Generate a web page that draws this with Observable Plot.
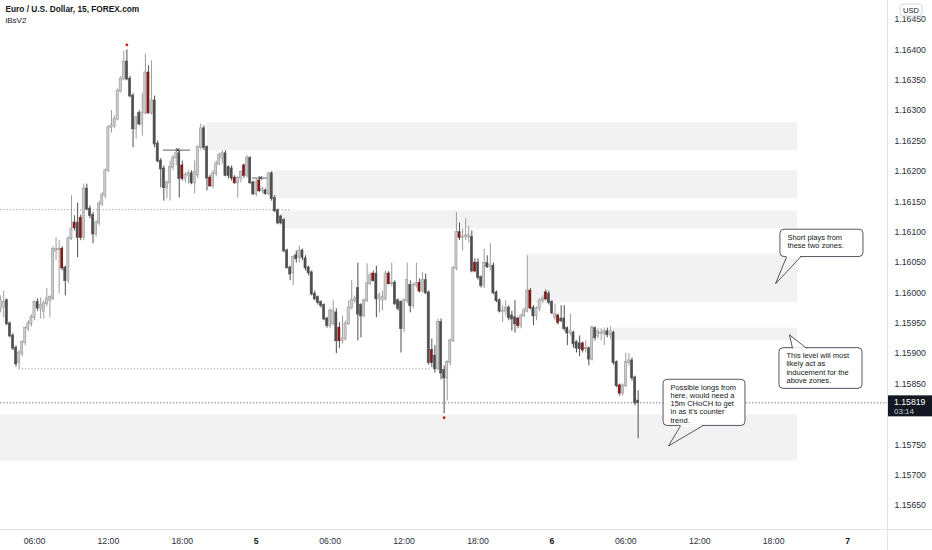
<!DOCTYPE html>
<html><head><meta charset="utf-8">
<script src="https://cdn.jsdelivr.net/npm/d3@7"></script>
<script src="https://cdn.jsdelivr.net/npm/@observablehq/plot@0.6"></script>
<style>
body{margin:0;background:#fff;}
#chart{width:932px;height:550px;}
</style></head><body><div id="chart"></div>
<script>
// ---- Data (EUR/USD, 15m candles from 4 Oct 03:15) ----
const open = [1.15975,1.15977,1.15987,1.15949,1.15929,1.15909,1.15885,1.15900,1.15918,1.15941,1.15949,1.15959,1.15984,1.15974,1.15970,1.15982,1.15988,1.15990,1.16069,1.16071,1.16072,1.16041,1.16020,1.16089,1.16107,1.16115,1.16123,1.16091,1.16171,1.16138,1.16127,1.16097,1.16115,1.16146,1.16160,1.16201,1.16272,1.16275,1.16286,1.16332,1.16352,1.16380,1.16352,1.16324,1.16270,1.16295,1.16278,1.16296,1.16362,1.16296,1.16316,1.16245,1.16217,1.16204,1.16173,1.16181,1.16206,1.16222,1.16229,1.16209,1.16188,1.16193,1.16196,1.16181,1.16194,1.16239,1.16270,1.16239,1.16189,1.16176,1.16196,1.16212,1.16221,1.16229,1.16206,1.16204,1.16189,1.16181,1.16188,1.16209,1.16193,1.16221,1.16181,1.16163,1.16184,1.16168,1.16168,1.16163,1.16196,1.16155,1.16135,1.16125,1.16119,1.16069,1.16041,1.16033,1.16061,1.16058,1.16069,1.16056,1.16041,1.16033,1.15998,1.15992,1.15984,1.15979,1.15957,1.15946,1.15949,1.15967,1.15942,1.15921,1.15924,1.15949,1.15975,1.15987,1.16007,1.15979,1.15962,1.15987,1.16015,1.16031,1.16031,1.15990,1.15988,1.15990,1.16031,1.16015,1.16016,1.15987,1.15984,1.15941,1.15987,1.16012,1.15979,1.16012,1.16016,1.16003,1.16020,1.16000,1.15905,1.15896,1.15875,1.15951,1.15872,1.15860,1.15885,1.15921,1.16040,1.16099,1.16091,1.16092,1.16092,1.16091,1.16049,1.16049,1.16025,1.16012,1.16048,1.16043,1.16044,1.16000,1.15987,1.15969,1.15970,1.15975,1.15962,1.15959,1.15957,1.15946,1.15962,1.15970,1.16003,1.15975,1.15962,1.15974,1.15987,1.16000,1.15998,1.15984,1.15960,1.15962,1.15957,1.15957,1.15941,1.15934,1.15934,1.15918,1.15916,1.15916,1.15908,1.15908,1.15891,1.15941,1.15929,1.15933,1.15933,1.15936,1.15931,1.15934,1.15885,1.15847,1.15835,1.15847,1.15885,1.15888,1.15860,1.15822];
const high = [1.15995,1.16003,1.15990,1.15952,1.15933,1.15913,1.15905,1.15921,1.15944,1.15954,1.15964,1.15987,1.15990,1.15992,1.15987,1.16007,1.15995,1.16076,1.16091,1.16086,1.16076,1.16044,1.16092,1.16160,1.16127,1.16148,1.16128,1.16179,1.16179,1.16143,1.16132,1.16119,1.16151,1.16165,1.16204,1.16275,1.16300,1.16291,1.16336,1.16356,1.16398,1.16400,1.16356,1.16328,1.16291,1.16300,1.16328,1.16393,1.16374,1.16382,1.16324,1.16250,1.16221,1.16209,1.16184,1.16217,1.16226,1.16230,1.16234,1.16217,1.16198,1.16201,1.16201,1.16217,1.16242,1.16278,1.16275,1.16242,1.16194,1.16201,1.16217,1.16230,1.16234,1.16234,1.16209,1.16209,1.16193,1.16191,1.16201,1.16212,1.16226,1.16224,1.16184,1.16188,1.16189,1.16174,1.16171,1.16198,1.16199,1.16160,1.16138,1.16128,1.16122,1.16072,1.16044,1.16061,1.16069,1.16077,1.16072,1.16061,1.16044,1.16036,1.16003,1.15995,1.15987,1.15982,1.15960,1.15974,1.15987,1.15974,1.15951,1.15962,1.15954,1.15987,1.16020,1.15995,1.16049,1.15982,1.15990,1.16048,1.16033,1.16036,1.16044,1.16000,1.16003,1.16036,1.16035,1.16049,1.16020,1.15990,1.15987,1.15990,1.16049,1.16020,1.16016,1.16049,1.16023,1.16033,1.16031,1.16003,1.15924,1.15913,1.15957,1.15957,1.15880,1.15888,1.15924,1.16043,1.16132,1.16115,1.16105,1.16122,1.16110,1.16102,1.16056,1.16056,1.16028,1.16072,1.16061,1.16081,1.16049,1.16003,1.15990,1.15979,1.15987,1.15979,1.15970,1.15987,1.15960,1.15965,1.15975,1.16061,1.16007,1.15979,1.15977,1.15990,1.15995,1.16005,1.16003,1.15987,1.15982,1.15965,1.15979,1.15979,1.15944,1.15965,1.15937,1.15921,1.15929,1.15919,1.15921,1.15911,1.15946,1.15944,1.15941,1.15941,1.15942,1.15942,1.15944,1.15937,1.15888,1.15850,1.15850,1.15901,1.15900,1.15893,1.15863,1.15839];
const low = [1.15967,1.15959,1.15946,1.15926,1.15905,1.15878,1.15875,1.15895,1.15913,1.15936,1.15944,1.15954,1.15970,1.15957,1.15957,1.15977,1.15959,1.15987,1.16053,1.15998,1.16036,1.15995,1.16015,1.16086,1.16102,1.16058,1.16086,1.16086,1.16135,1.16122,1.16081,1.16092,1.16110,1.16142,1.16155,1.16198,1.16263,1.16270,1.16283,1.16329,1.16349,1.16349,1.16321,1.16239,1.16253,1.16275,1.16258,1.16293,1.16295,1.16293,1.16239,1.16214,1.16173,1.16151,1.16155,1.16151,1.16201,1.16209,1.16156,1.16184,1.16181,1.16179,1.16178,1.16163,1.16188,1.16235,1.16234,1.16168,1.16174,1.16171,1.16191,1.16209,1.16212,1.16191,1.16188,1.16184,1.16179,1.16156,1.16181,1.16188,1.16189,1.16179,1.16160,1.16158,1.16165,1.16163,1.16161,1.16160,1.16151,1.16132,1.16112,1.16112,1.16066,1.16040,1.16020,1.16012,1.16049,1.16049,1.16053,1.16036,1.16028,1.15995,1.15987,1.15980,1.15975,1.15954,1.15942,1.15941,1.15946,1.15900,1.15908,1.15916,1.15921,1.15946,1.15972,1.15982,1.15921,1.15926,1.15959,1.15984,1.16012,1.16018,1.15959,1.15967,1.15970,1.15987,1.16013,1.16010,1.15979,1.15970,1.15901,1.15934,1.15982,1.15967,1.15974,1.16008,1.16000,1.16000,1.15997,1.15881,1.15877,1.15868,1.15872,1.15857,1.15801,1.15822,1.15880,1.15918,1.16036,1.16086,1.16069,1.16086,1.16082,1.16033,1.16033,1.16021,1.16008,1.16007,1.16040,1.16036,1.15997,1.15984,1.15967,1.15951,1.15962,1.15954,1.15937,1.15934,1.15941,1.15941,1.15959,1.15967,1.15972,1.15946,1.15954,1.15969,1.15982,1.15987,1.15980,1.15964,1.15954,1.15947,1.15951,1.15937,1.15913,1.15929,1.15909,1.15901,1.15895,1.15901,1.15901,1.15880,1.15888,1.15921,1.15924,1.15921,1.15913,1.15926,1.15924,1.15881,1.15844,1.15830,1.15830,1.15844,1.15880,1.15855,1.15814,1.15760];
const close = [1.15987,1.15984,1.15949,1.15929,1.15909,1.15883,1.15901,1.15918,1.15941,1.15949,1.15959,1.15984,1.15975,1.15979,1.15982,1.15990,1.15992,1.16072,1.16072,1.16072,1.16041,1.16020,1.16089,1.16105,1.16115,1.16091,1.16091,1.16171,1.16138,1.16127,1.16097,1.16115,1.16146,1.16160,1.16201,1.16272,1.16275,1.16286,1.16332,1.16352,1.16380,1.16352,1.16324,1.16270,1.16288,1.16278,1.16296,1.16362,1.16296,1.16316,1.16245,1.16217,1.16204,1.16173,1.16181,1.16206,1.16222,1.16229,1.16188,1.16188,1.16193,1.16196,1.16181,1.16198,1.16239,1.16270,1.16239,1.16189,1.16176,1.16196,1.16212,1.16226,1.16229,1.16193,1.16193,1.16189,1.16181,1.16188,1.16198,1.16193,1.16221,1.16181,1.16163,1.16181,1.16168,1.16170,1.16163,1.16196,1.16155,1.16135,1.16115,1.16115,1.16069,1.16041,1.16031,1.16058,1.16056,1.16069,1.16058,1.16041,1.16033,1.15998,1.15990,1.15984,1.15979,1.15957,1.15946,1.15970,1.15970,1.15921,1.15921,1.15924,1.15949,1.15975,1.15987,1.15990,1.15965,1.15962,1.15987,1.16015,1.16028,1.16020,1.15990,1.15995,1.15993,1.16031,1.16015,1.16016,1.15982,1.15974,1.15941,1.15987,1.16020,1.15979,1.16012,1.16015,1.16003,1.16020,1.16000,1.15885,1.15885,1.15875,1.15951,1.15868,1.15860,1.15885,1.15921,1.16040,1.16099,1.16091,1.16092,1.16094,1.16094,1.16036,1.16036,1.16025,1.16012,1.16048,1.16043,1.16046,1.16000,1.15987,1.15970,1.15970,1.15975,1.15959,1.15957,1.15949,1.15946,1.15962,1.15970,1.16003,1.15975,1.15962,1.15974,1.15987,1.15990,1.15990,1.15984,1.15967,1.15964,1.15951,1.15954,1.15941,1.15934,1.15936,1.15916,1.15909,1.15908,1.15906,1.15909,1.15891,1.15941,1.15926,1.15936,1.15934,1.15936,1.15931,1.15936,1.15885,1.15847,1.15835,1.15847,1.15885,1.15888,1.15860,1.15819,1.15819];
// candles highlighted dark red by the iBsV2 indicator
const flagged = [20,24,26,48,59,68,76,79,84,110,121,126,136,140,149,154,168,172,177,181,189,201];

// zones (hours after 4 Oct 00:00, prices)
const zoneStart = [20.0, 25.16, 26.13, 46.02, 52.92, 3.24];
const zoneEnd = [67.93, 67.93, 67.93, 67.93, 67.93, 67.93];
const zoneTop = [1.16280, 1.16201, 1.16135, 1.16064, 1.15942, 1.15799];
const zoneBottom = [1.16234, 1.16155, 1.16105, 1.15984, 1.15921, 1.15723];

// dotted levels
const levelPrice = [1.16137, 1.15875];
const levelStart = [3.24, 4.75];
const levelEnd = [26.78, 38.14];
const lastPrice = 1.15819;
const countdown = "03:14";

// structure marks (x)
const markPrice = [1.16235, 1.16189];
const markStart = [16.47, 23.69];
const markEnd = [18.66, 24.99];
const markAt = [17.61, 24.34];

// callouts
const calloutText = [
  "Short plays from\nthese two zones.",
  "This level will most\nlikely act as\ninducement for the\nabove zones.",
  "Possible longs from\nhere, would need a\n15m CHoCH to get\nin as it's counter\ntrend."
];
const calloutX1 = [66.55, 66.47, 57.06];
const calloutX2 = [73.29, 73.21, 63.71];
const calloutTop = [1.16104, 1.15909, 1.15857];
const calloutBottom = [1.16059, 1.15842, 1.15781];
const calloutEdge = ["bottom", "top", "bottom"];
const calloutBase1 = [67.04, 67.53, 58.44];
const calloutBase2 = [68.18, 68.66, 60.22];
const calloutTipX = [66.15, 67.28, 57.46];
const calloutTipY = [1.16015, 1.15931, 1.15748];

// 1.15800 sits behind the last-price label in the reference
const yTicks = [1.1565,1.157,1.1575,1.1585,1.159,1.1595,1.16,1.1605,1.161,1.1615,1.162,1.1625,1.163,1.1635,1.164,1.1645];
const hourTicks = [6,12,18,30,36,42,54,60,66];
const dayTicks = [24,48,72];

// ---- build ----
const baseDay = Date.UTC(2021, 9, 4);
const H = h => new Date(baseDay + h * 3600e3);
const firstCandle = 3.25, stepH = 0.25, halfBody = 0.088;

const candles = open.map((o, i) => {
  const t = firstCandle + i * stepH;
  const kind = flagged.includes(i) ? "flag" : (close[i] >= o ? "up" : "down");
  return {date: H(t), x1: H(t - halfBody), x2: H(t + halfBody), open: o, high: high[i], low: low[i], close: close[i], kind};
});
const bodyFill = {up: "#cbcbcb", down: "#4e4e4e", flag: "#861a1a"};
const bodyStroke = {up: "#8e8e8e", down: "#4e4e4e", flag: "#6e1414"};
const wickColor = {up: "#9c9c9c", down: "#4e4e4e", flag: "#5a5a5a"};

const zones = zoneStart.map((s, i) => ({x1: H(s), x2: H(zoneEnd[i]), top: zoneTop[i], bottom: zoneBottom[i]}));
const levels = levelPrice.map((p, i) => ({p, x1: H(levelStart[i]), x2: H(levelEnd[i])}));
const marks = markPrice.map((p, i) => ({p, x1: H(markStart[i]), x2: H(markEnd[i]), at: H(markAt[i])}));
const callouts = calloutText.map((t, i) => ({
  id: i, text: t, x1: H(calloutX1[i]), x2: H(calloutX2[i]), top: calloutTop[i], bottom: calloutBottom[i],
  edgeP: calloutEdge[i] === "bottom" ? calloutBottom[i] : calloutTop[i],
  b1: H(calloutBase1[i]), b2: H(calloutBase2[i])
}));
const pointer = [];
callouts.forEach((c, i) => {
  pointer.push({id: i, x: c.b1, y: c.edgeP});
  pointer.push({id: i, x: H(calloutTipX[i]), y: calloutTipY[i]});
  pointer.push({id: i, x: c.b2, y: c.edgeP});
});
const peak = candles[41], trough = candles[144];

const font = "'Liberation Sans', Arial, sans-serif";
const chart = Plot.plot({
  width: 932, height: 550,
  marginLeft: 0, marginRight: 45, marginTop: 0, marginBottom: 21,
  style: {background: "#ffffff", fontFamily: font, overflow: "visible"},
  x: {type: "utc", domain: [H(3.24), H(75.24)]},
  y: {domain: [1.156105, 1.164813]},
  marks: [
    Plot.rect(zones, {x1: "x1", x2: "x2", y1: "bottom", y2: "top", fill: "#f2f2f2"}),
    Plot.ruleY(levels, {y: "p", x1: "x1", x2: "x2", stroke: "#9a9a9a", strokeWidth: 1, strokeDasharray: "1.2,2"}),
    Plot.ruleY([lastPrice], {stroke: "#6a6d78", strokeWidth: 1, strokeDasharray: "1.2,2"}),
    Plot.ruleY(marks, {y: "p", x1: "x1", x2: "x2", stroke: "#333", strokeWidth: 0.8}),
    Plot.text(marks, {x: "at", y: "p", text: () => "×", fontSize: 9, fill: "#222"}),
    Plot.ruleX(candles, {x: "date", y1: "low", y2: "high", stroke: d => wickColor[d.kind], strokeWidth: 1}),
    Plot.rect(candles, {x1: "x1", x2: "x2", y1: "open", y2: "close", fill: d => bodyFill[d.kind], stroke: d => bodyStroke[d.kind], strokeWidth: 0.5, insetTop: -0.5, insetBottom: -0.5}),
    Plot.dot([peak], {x: "date", y: "high", r: 1.4, fill: "#c0281e", dy: -5}),
    Plot.dot([trough], {x: "date", y: "low", r: 1.4, fill: "#c0281e", dy: 4}),
    Plot.rect(callouts, {x1: "x1", x2: "x2", y1: "bottom", y2: "top", fill: "#ffffff", stroke: "#2a2e39", strokeWidth: 0.8, rx: 4}),
    Plot.ruleY(callouts, {y: "edgeP", x1: "b1", x2: "b2", stroke: "#ffffff", strokeWidth: 2}),
    Plot.line(pointer, {x: "x", y: "y", z: "id", stroke: "#2a2e39", strokeWidth: 0.8}),
    Plot.text(callouts, {x: "x1", y: "top", text: "text", dx: 7, dy: 4, textAnchor: "start", lineAnchor: "top", fontSize: 7.5, lineHeight: 1.1, fill: "#131722"}),
    Plot.axisY({anchor: "right", ticks: yTicks, tickSize: 0, tickPadding: 7, tickFormat: d => d.toFixed(5), fontSize: 8.7, fill: "#2a2e39"}),
    Plot.axisX({ticks: hourTicks.map(H), tickSize: 0, tickPadding: 8, tickFormat: d3.utcFormat("%H:%M"), fontSize: 8.7, fill: "#2a2e39"}),
    Plot.axisX({ticks: dayTicks.map(H), tickSize: 0, tickPadding: 8, tickFormat: d => String(d.getUTCDate()), fontSize: 8.7, fontWeight: "bold", fill: "#131722"}),
    Plot.text(["Euro / U.S. Dollar, 15, FOREX.com"], {frameAnchor: "top-left", dx: 5, dy: 6, fontSize: 8.3, fontWeight: "bold", fill: "#131722", textAnchor: "start", lineAnchor: "top"}),
    Plot.text(["iBsV2"], {frameAnchor: "top-left", dx: 5, dy: 17, fontSize: 8, fill: "#131722", textAnchor: "start", lineAnchor: "top"})
  ]
});
document.getElementById("chart").appendChild(chart);

// frame lines, USD badge and last price label in the margins
const svg = d3.select(chart);
const ys = chart.scale("y");
svg.insert("line", ":first-child").attr("x1", 887.5).attr("x2", 887.5).attr("y1", 0).attr("y2", 550).attr("stroke", "#e0e3eb");
svg.insert("line", ":first-child").attr("x1", 0).attr("x2", 932).attr("y1", 529.5).attr("y2", 529.5).attr("stroke", "#e0e3eb");
svg.append("rect").attr("x", 900).attr("y", 4).attr("width", 22).attr("height", 12).attr("rx", 3).attr("fill", "#fff").attr("stroke", "#d1d4dc");
svg.append("text").attr("x", 911).attr("y", 13).attr("text-anchor", "middle").attr("font-size", 7.5).attr("fill", "#131722").attr("font-family", font).text("USD");
const py = ys.apply(lastPrice);
svg.append("rect").attr("x", 888).attr("y", py - 7).attr("width", 44).attr("height", 21).attr("fill", "#131722");
svg.append("text").attr("x", 894).attr("y", py + 3).attr("text-anchor", "start").attr("font-size", 8.7).attr("fill", "#ffffff").attr("font-family", font).text(lastPrice.toFixed(5));
svg.append("text").attr("x", 894).attr("y", py + 11.5).attr("text-anchor", "start").attr("font-size", 8).attr("fill", "#c9ccd6").attr("font-family", font).text(countdown);
</script>
</body></html>
